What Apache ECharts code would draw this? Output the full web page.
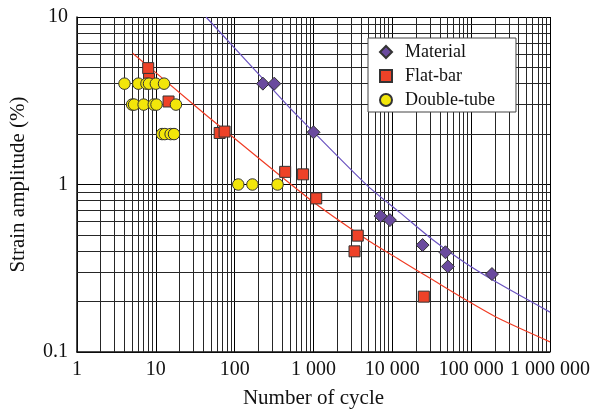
<!DOCTYPE html>
<html><head><meta charset="utf-8">
<script src="https://cdn.jsdelivr.net/npm/echarts@6/dist/echarts.min.js"></script>
<style>html,body{margin:0;padding:0;background:#fff}#c{width:593px;height:414px}</style>
</head><body><div id="c"></div>
<script>
// Tick values and labels
const xTickValues = [1, 10, 100, 1000, 10000, 100000, 1000000];
const xTickLabels = ['1', '10', '100', '1 000', '10 000', '100 000', '1 000 000'];
const yTickValues = [0.1, 1, 10];
const yTickLabels = ['0.1', '1', '10'];

// Series names
const seriesNames = ['Material', 'Flat-bar', 'Double-tube'];

// Measured points [cycles, strain %]
const materialData = [[228, 4], [318, 4], [1000, 2.05], [7110, 0.648], [9310, 0.613], [24200, 0.435], [47200, 0.394], [50600, 0.324], [183600, 0.292]];
const flatBarData = [[8, 4.95], [8.2, 4.27], [14.5, 3.13], [64.5, 2.03], [74.5, 2.07], [437, 1.19], [738, 1.15], [1083, 0.826], [3645, 0.495], [3312, 0.399], [25100, 0.214]];
const doubleTubeData = [[4, 4], [6, 4], [7.6, 4], [8.2, 4], [10, 4], [12.7, 4],
  [5, 3], [5.3, 3], [7, 3], [9.4, 3], [10.2, 3], [18, 3],
  [12, 2], [13, 2], [15.4, 2], [17, 2],
  [111, 1], [168, 1], [350, 1]];

// Fitted curves
const materialFit = [[43.3, 10], [490, 2.9], [1000, 2.06], [4855, 0.982], [12620, 0.677], [32870, 0.466], [85400, 0.339], [222000, 0.257], [1000000, 0.173]];
const flatBarFit = [[5.08, 6.08], [27.8, 3.1], [49.4, 2.47], [869, 0.825], [4855, 0.466], [12620, 0.353], [32870, 0.269], [85400, 0.205], [222000, 0.159], [1000000, 0.115]];

// Minor grid positions (2..9 of each decade)
const minorX = [];
for (let d = 1; d < 1000000; d *= 10) for (let k = 2; k <= 9; k++) minorX.push(d * k);
const minorY = [];
for (let d = 0.1; d < 5; d *= 10) for (let k = 2; k <= 9; k++) minorY.push(+(d * k).toFixed(2));

const FONT = 'Liberation Serif';
function lookup(vals, labels, v) {
  const i = vals.findIndex(t => Math.abs(Math.log10(t) - Math.log10(v)) < 1e-6);
  return i >= 0 ? labels[i] : '';
}

const chart = echarts.init(document.getElementById('c'), null, {renderer: 'canvas'});
const gridLine = {type: 'solid', color: '#262626', width: 1};
chart.setOption({
  animation: false,
  backgroundColor: '#fff',
  grid: {left: 74, right: 37, top: 17, bottom: 60},
  legend: {
    left: 368, top: 38, orient: 'vertical', z: 20,
    padding: [5, 21, 3, 11],
    itemWidth: 12, itemHeight: 12, itemGap: 6,
    backgroundColor: '#fff', borderColor: '#444', borderWidth: 1,
    textStyle: {fontFamily: FONT, fontSize: 18, color: '#111', lineHeight: 18, padding: [0, 0, 0, 8]},
    data: [
      {name: seriesNames[0], icon: 'diamond'},
      {name: seriesNames[1], icon: 'rect'},
      {name: seriesNames[2], icon: 'circle'}
    ]
  },
  xAxis: {
    type: 'log', logBase: 10, min: 1, max: 1000000, splitNumber: 6,
    name: 'Number of cycle', nameLocation: 'middle', nameGap: 36,
    nameTextStyle: {fontFamily: FONT, fontSize: 21, color: '#111'},
    axisLine: {show: true, lineStyle: {color: '#111', width: 1.5}},
    axisTick: {show: false},
    axisLabel: {fontFamily: FONT, fontSize: 20, color: '#111', margin: 8,
      formatter: v => lookup(xTickValues, xTickLabels, v)},
    splitLine: {show: true, lineStyle: {color: '#000', width: 1}}
  },
  yAxis: {
    type: 'log', logBase: 10, min: 0.1, max: 10, splitNumber: 2,
    name: 'Strain amplitude (%)', nameLocation: 'middle', nameGap: 48,
    nameTextStyle: {fontFamily: FONT, fontSize: 21, color: '#111'},
    axisLine: {show: true, lineStyle: {color: '#111', width: 1.5}},
    axisTick: {show: false},
    axisLabel: {fontFamily: FONT, fontSize: 20, color: '#111', margin: 9,
      formatter: v => lookup(yTickValues, yTickLabels, v)},
    splitLine: {show: true, lineStyle: {color: '#000', width: 1}}
  },
  series: [
    {
      type: 'line', name: 'grid', data: [], z: 1, silent: true,
      markLine: {
        z: 1, silent: true, symbol: ['none', 'none'], label: {show: false},
        lineStyle: gridLine, emphasis: {disabled: true},
        data: minorX.map(v => ({xAxis: v})).concat(minorY.map(v => ({yAxis: v})))
      }
    },
    {
      type: 'line', name: 'materialFit', data: materialFit, smooth: 0.25,
      showSymbol: false, symbol: 'none', z: 3, silent: true,
      lineStyle: {color: '#6a52c0', width: 1.2}
    },
    {
      type: 'line', name: 'flatBarFit', data: flatBarFit, smooth: 0.25,
      showSymbol: false, symbol: 'none', z: 3, silent: true,
      lineStyle: {color: '#f03c24', width: 1.2}
    },
    {
      type: 'scatter', name: seriesNames[0], data: materialData, symbol: 'diamond', symbolSize: 13, z: 4,
      itemStyle: {color: '#6a4a9e', borderColor: '#333', borderWidth: 1, opacity: 1}
    },
    {
      type: 'scatter', name: seriesNames[1], data: flatBarData, symbol: 'rect', symbolSize: 11, z: 4,
      itemStyle: {color: '#ee4228', borderColor: '#333', borderWidth: 1, opacity: 1}
    },
    {
      type: 'scatter', name: seriesNames[2], data: doubleTubeData, symbol: 'circle', symbolSize: 11.5, z: 4,
      itemStyle: {color: '#f2e60a', borderColor: '#333', borderWidth: 1, opacity: 1}
    }
  ]
});
</script>
</body></html>
